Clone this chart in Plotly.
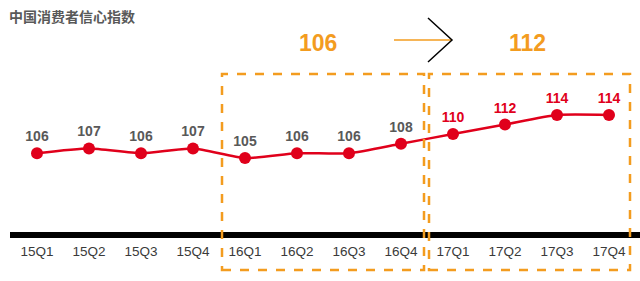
import plotly.graph_objects as go

quarters = ["15Q1", "15Q2", "15Q3", "15Q4", "16Q1", "16Q2", "16Q3", "16Q4",
            "17Q1", "17Q2", "17Q3", "17Q4"]
index_values = [106, 107, 106, 107, 105, 106, 106, 108, 110, 112, 114, 114]
period_avgs = ["106", "112"]
title_text = "中国消费者信心指数"

W, H = 640, 281
PB = 235  # plot bottom pixel
GREY = "#595959"
RED = "#E0001B"
ORANGE = "#F39C1F"

x_idx = list(range(len(quarters)))
label_colors = [GREY] * 8 + [RED] * 4

fig = go.Figure()
fig.add_trace(go.Scatter(
    x=x_idx, y=index_values,
    mode="lines+markers+text",
    line=dict(color=RED, width=2.5, shape="spline", smoothing=0.6),
    marker=dict(color=RED, size=12),
    text=[str(v) for v in index_values],
    textposition="top center",
    textfont=dict(family="Liberation Sans, Arial", size=14, color=label_colors, weight="bold"),
    cliponaxis=False,
    hoverinfo="skip",
))

def px_x(p):
    return p / W

def px_y(p):
    return (PB - p) / PB

shapes = []
# black baseline bar
shapes.append(dict(type="line", xref="paper", yref="paper",
                   x0=px_x(10), x1=1, y0=0, y1=0,
                   line=dict(color="black", width=6), layer="below"))
# dashed boxes
for (l, r) in [(222, 424), (429, 630)]:
    shapes.append(dict(type="rect", xref="paper", yref="paper",
                       x0=px_x(l), x1=px_x(r), y0=px_y(270), y1=px_y(74),
                       line=dict(color=ORANGE, width=2.5, dash="dash"),
                       fillcolor="rgba(0,0,0,0)", layer="above"))
# arrow: orange shaft + black chevron
shapes.append(dict(type="line", xref="paper", yref="paper",
                   x0=px_x(394), x1=px_x(451), y0=px_y(40), y1=px_y(40),
                   line=dict(color=ORANGE, width=1.5)))
shapes.append(dict(type="path", xref="paper", yref="paper",
                   path=f"M {px_x(428)} {px_y(18)} L {px_x(452)} {px_y(40)} L {px_x(428)} {px_y(62)}",
                   line=dict(color="black", width=1.5)))

annotations = [
    dict(text=title_text, xref="paper", yref="paper", x=px_x(7), y=px_y(16),
         xanchor="left", yanchor="middle", showarrow=False,
         font=dict(family="Noto Sans CJK SC", size=14, color=GREY, weight="bold")),
    dict(text=period_avgs[0], xref="paper", yref="paper", x=px_x(318), y=px_y(43),
         xanchor="center", yanchor="middle", showarrow=False,
         font=dict(family="Liberation Sans, Arial", size=23, color=ORANGE, weight="bold")),
    dict(text=period_avgs[1], xref="paper", yref="paper", x=px_x(527), y=px_y(43),
         xanchor="center", yanchor="middle", showarrow=False,
         font=dict(family="Liberation Sans, Arial", size=23, color=ORANGE, weight="bold")),
]

fig.update_layout(
    width=W, height=H,
    margin=dict(l=0, r=0, t=0, b=H - PB, pad=0),
    paper_bgcolor="white", plot_bgcolor="white",
    showlegend=False,
    shapes=shapes, annotations=annotations,
    xaxis=dict(range=[(0 - 37) / 52, (640 - 37) / 52], tickvals=x_idx, ticktext=quarters,
               showgrid=False, zeroline=False, showline=False, ticks="",
               tickfont=dict(family="Liberation Sans, Arial", size=13.5, color="#3a3a3a"),
               ticklabelstandoff=6, fixedrange=True),
    yaxis=dict(range=[105 - (PB - 158) / 4.78, 105 + 158 / 4.78], visible=False, fixedrange=True),
)

fig.write_html("out.html")
